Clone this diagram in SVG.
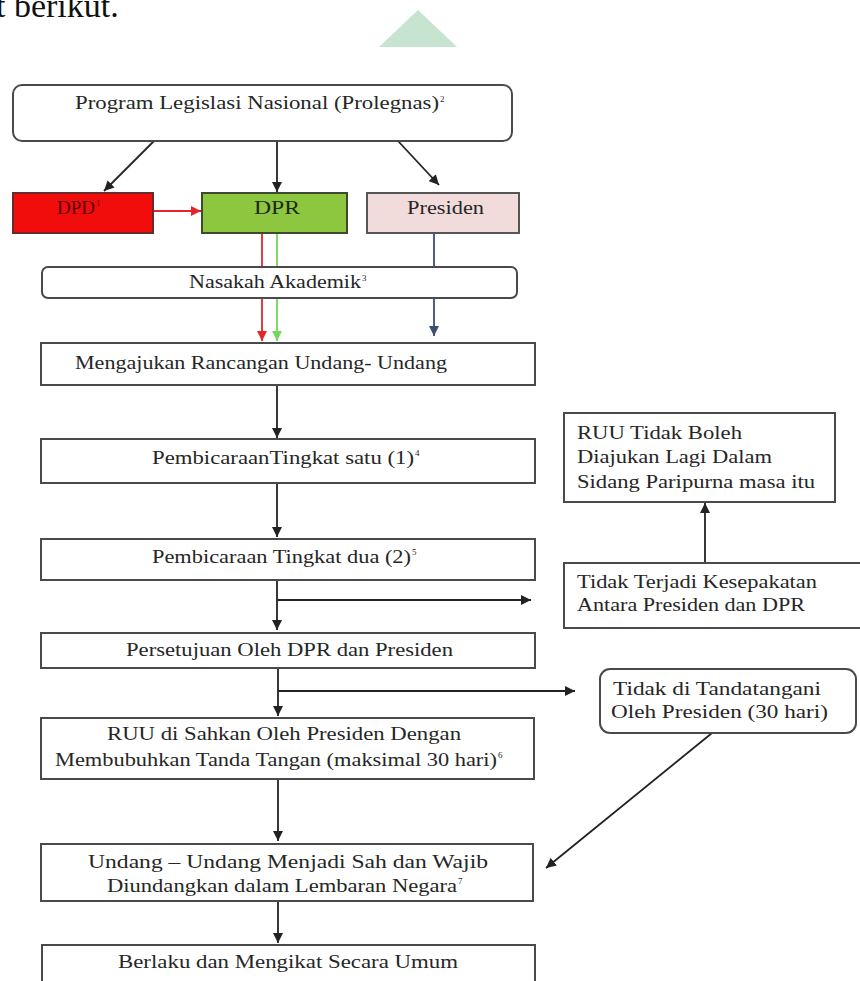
<svg xmlns="http://www.w3.org/2000/svg" width="860" height="981" viewBox="0 0 860 981">
<style>
.box{fill:#fff;stroke:#4a4a4a;stroke-width:2}
.t{font-family:"Liberation Serif","Times New Roman",serif;font-size:18px;fill:#262626}
.sup{font-family:"Liberation Serif","Times New Roman",serif;font-size:9px;fill:#262626}
.ln{stroke:#222;stroke-width:1.8;fill:none}
</style>
<defs>
<marker id="ak" viewBox="0 0 10 10" refX="10" refY="5" markerWidth="10" markerHeight="10" markerUnits="userSpaceOnUse" orient="auto"><path d="M0,0 L10,5 L0,10 z" fill="#222"/></marker>
<marker id="ar" viewBox="0 0 10 10" refX="10" refY="5" markerWidth="10" markerHeight="10" markerUnits="userSpaceOnUse" orient="auto"><path d="M0,0 L10,5 L0,10 z" fill="#e4262a"/></marker>
<marker id="ag" viewBox="0 0 10 10" refX="10" refY="5" markerWidth="10" markerHeight="10" markerUnits="userSpaceOnUse" orient="auto"><path d="M0,0 L10,5 L0,10 z" fill="#74d65a"/></marker>
<marker id="ab" viewBox="0 0 10 10" refX="10" refY="5" markerWidth="10" markerHeight="10" markerUnits="userSpaceOnUse" orient="auto"><path d="M0,0 L10,5 L0,10 z" fill="#3b4f72"/></marker>
</defs>
<rect x="0" y="0" width="860" height="981" fill="#fff"/>
<text x="-4" y="17" style="font-family:'Liberation Serif',serif;font-size:34px;fill:#111">t berikut.</text>
<polygon points="418,10 379,47 457,47" fill="#c6e4d0"/>

<g id="connectors">
<line class="ln" x1="154" y1="141" x2="104" y2="191" marker-end="url(#ak)"/>
<line class="ln" x1="277" y1="141" x2="277" y2="192" marker-end="url(#ak)"/>
<line class="ln" x1="398" y1="141" x2="439" y2="185" marker-end="url(#ak)"/>
<line x1="153" y1="211" x2="201" y2="211" stroke="#e4262a" stroke-width="1.8" marker-end="url(#ar)"/>
<line x1="262" y1="233" x2="262" y2="341" stroke="#e4262a" stroke-width="1.8" marker-end="url(#ar)"/>
<line x1="277" y1="233" x2="277" y2="341" stroke="#74d65a" stroke-width="1.8" marker-end="url(#ag)"/>
<line x1="434" y1="233" x2="434" y2="336" stroke="#3b4f72" stroke-width="1.8" marker-end="url(#ab)"/>
<line class="ln" x1="277" y1="385" x2="277" y2="438" marker-end="url(#ak)"/>
<line class="ln" x1="277" y1="483" x2="277" y2="537" marker-end="url(#ak)"/>
<line class="ln" x1="277" y1="580" x2="277" y2="630" marker-end="url(#ak)"/>
<line class="ln" x1="277" y1="600" x2="531" y2="600" marker-end="url(#ak)"/>
<line class="ln" x1="705" y1="563" x2="705" y2="503" marker-end="url(#ak)"/>
<line class="ln" x1="278" y1="668" x2="278" y2="716" marker-end="url(#ak)"/>
<line class="ln" x1="278" y1="691" x2="575" y2="691" marker-end="url(#ak)"/>
<line class="ln" x1="278" y1="779" x2="278" y2="841" marker-end="url(#ak)"/>
<line class="ln" x1="712" y1="733" x2="546" y2="868" marker-end="url(#ak)"/>
<line class="ln" x1="278" y1="901" x2="278" y2="943" marker-end="url(#ak)"/>
</g>

<g id="prolegnas">
<rect class="box" x="13" y="85" width="499" height="56" rx="9"/>
<text class="t" x="75" y="109" textLength="364" lengthAdjust="spacingAndGlyphs">Program Legislasi Nasional (Prolegnas)</text>
<text class="sup" x="440" y="102">2</text>
</g>
<g id="dpd">
<rect x="13" y="193" width="140" height="40" fill="#f20d0d" stroke="#6a2a2a" stroke-width="2"/>
<text class="t" x="57" y="214" textLength="38" lengthAdjust="spacingAndGlyphs" style="fill:#5a0000">DPD</text>
<text class="sup" x="96" y="206" style="fill:#5a0000">1</text>
</g>
<g id="dpr">
<rect x="202" y="193" width="145" height="40" fill="#8dc63f" stroke="#3e4a30" stroke-width="2"/>
<text class="t" x="254" y="214" textLength="46" lengthAdjust="spacingAndGlyphs" style="fill:#1e2a10">DPR</text>
</g>
<g id="presiden">
<rect x="367" y="193" width="152" height="40" fill="#f2dcdb" stroke="#555" stroke-width="2"/>
<text class="t" x="407" y="214" textLength="77" lengthAdjust="spacingAndGlyphs">Presiden</text>
</g>
<g id="nasakah">
<rect class="box" x="42" y="267" width="475" height="31" rx="6"/>
<text class="t" x="189" y="288" textLength="172" lengthAdjust="spacingAndGlyphs">Nasakah Akademik</text>
<text class="sup" x="362" y="281">3</text>
</g>
<g id="mengajukan">
<rect class="box" x="41" y="343" width="494" height="42"/>
<text class="t" x="75" y="369" textLength="372" lengthAdjust="spacingAndGlyphs">Mengajukan Rancangan Undang- Undang</text>
</g>
<g id="tingkat1">
<rect class="box" x="41" y="439" width="494" height="44"/>
<text class="t" x="152" y="464" textLength="262" lengthAdjust="spacingAndGlyphs">PembicaraanTingkat satu (1)</text>
<text class="sup" x="415" y="456">4</text>
</g>
<g id="tingkat2">
<rect class="box" x="41" y="539" width="494" height="41"/>
<text class="t" x="152" y="563" textLength="259" lengthAdjust="spacingAndGlyphs">Pembicaraan Tingkat dua (2)</text>
<text class="sup" x="412" y="555">5</text>
</g>
<g id="persetujuan">
<rect class="box" x="41" y="633" width="494" height="35"/>
<text class="t" x="126" y="656" textLength="327" lengthAdjust="spacingAndGlyphs">Persetujuan Oleh DPR dan Presiden</text>
</g>
<g id="disahkan">
<rect class="box" x="41" y="718" width="493" height="61"/>
<text class="t" x="107" y="740" textLength="354" lengthAdjust="spacingAndGlyphs">RUU di Sahkan Oleh Presiden Dengan</text>
<text class="t" x="55" y="766" textLength="442" lengthAdjust="spacingAndGlyphs">Membubuhkan Tanda Tangan (maksimal 30 hari)</text>
<text class="sup" x="498" y="758">6</text>
</g>
<g id="sah">
<rect class="box" x="41" y="844" width="492" height="57"/>
<text class="t" x="88" y="868" textLength="400" lengthAdjust="spacingAndGlyphs">Undang – Undang  Menjadi Sah dan Wajib</text>
<text class="t" x="107" y="892" textLength="350" lengthAdjust="spacingAndGlyphs">Diundangkan dalam Lembaran Negara</text>
<text class="sup" x="458" y="884">7</text>
</g>
<g id="berlaku">
<rect class="box" x="42" y="945" width="493" height="45"/>
<text class="t" x="118" y="968" textLength="340" lengthAdjust="spacingAndGlyphs">Berlaku dan Mengikat Secara Umum</text>
</g>
<g id="tidakboleh">
<rect class="box" x="564" y="413" width="271" height="89"/>
<text class="t" x="577" y="439" textLength="165" lengthAdjust="spacingAndGlyphs">RUU Tidak Boleh</text>
<text class="t" x="577" y="463" textLength="195" lengthAdjust="spacingAndGlyphs">Diajukan Lagi Dalam</text>
<text class="t" x="577" y="488" textLength="238" lengthAdjust="spacingAndGlyphs">Sidang Paripurna masa itu</text>
</g>
<g id="tidakterjadi">
<rect class="box" x="564" y="563" width="310" height="65"/>
<text class="t" x="577" y="588" textLength="240" lengthAdjust="spacingAndGlyphs">Tidak Terjadi Kesepakatan</text>
<text class="t" x="577" y="611" textLength="228" lengthAdjust="spacingAndGlyphs">Antara Presiden dan DPR</text>
</g>
<g id="tidakttd">
<rect class="box" x="600" y="669" width="256" height="64" rx="10"/>
<text class="t" x="613" y="695" textLength="208" lengthAdjust="spacingAndGlyphs">Tidak di Tandatangani</text>
<text class="t" x="611" y="718" textLength="217" lengthAdjust="spacingAndGlyphs">Oleh Presiden (30 hari)</text>
</g>
</svg>
